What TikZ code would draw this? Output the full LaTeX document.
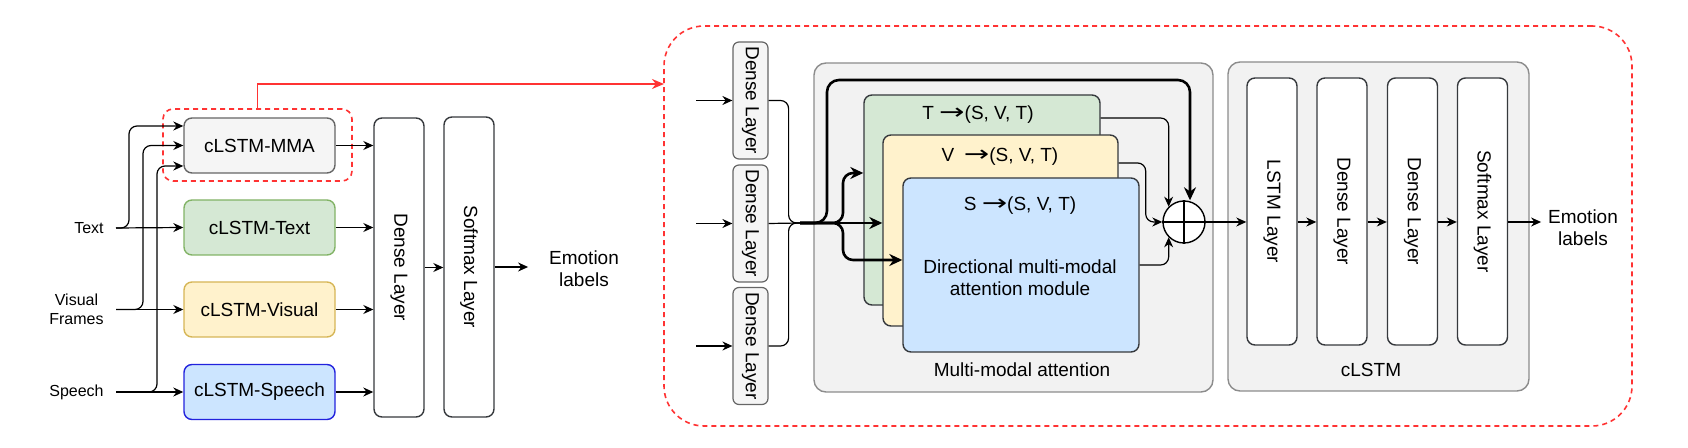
\documentclass[tikz,border=0pt]{standalone}
\usepackage{fontspec}
\setmainfont{Liberation Sans}
\newfontfamily\arrowfont{DejaVu Sans}
\usetikzlibrary{arrows.meta,calc}
\definecolor{boxfill}{HTML}{F5F5F5}
\definecolor{boxedge}{HTML}{666666}
\definecolor{panelfill}{HTML}{F2F2F2}
\definecolor{paneledge}{HTML}{8C8C8C}
\definecolor{txtfill}{HTML}{D5E8D4}
\definecolor{txtedge}{HTML}{82B366}
\definecolor{visfill}{HTML}{FFF2CC}
\definecolor{visedge}{HTML}{D6B656}
\definecolor{spcfill}{HTML}{CCE5FF}
\definecolor{spcedge}{HTML}{2222DD}
\definecolor{darkedge}{HTML}{36393D}
\definecolor{zoomred}{HTML}{FF3333}
\newcommand{\dirto}{\scalebox{1.6}[1.15]{\arrowfont →}}
\begin{document}
\begin{tikzpicture}[x=0.5pt,y=-0.5pt,
  every node/.style={font=\fontsize{9.5}{11}\selectfont},
  lbl/.style={font=\fontsize{8}{9.5}\selectfont, inner xsep=6pt, align=center, anchor=east},
  modbox/.style={draw=#1edge, fill=#1fill, rounded corners=4pt, minimum width=75.5pt, minimum height=27.5pt, line width=0.7pt},
  layer/.style={draw=darkedge, fill=white, rounded corners=4pt, minimum width=25pt, line width=0.7pt},
  smalldense/.style={draw=boxedge, fill=boxfill, rounded corners=3pt, minimum width=17.5pt, minimum height=58.5pt, inner sep=1pt, line width=0.6pt},
  attbox/.style={draw=darkedge, fill=#1, rounded corners=4pt, line width=0.7pt},
  panel/.style={draw=paneledge, fill=panelfill, rounded corners=6pt, line width=0.7pt},
  redbox/.style={draw=zoomred, dash pattern=on 2.5pt off 2pt, line width=0.8pt},
  arr/.style={-{Stealth[length=5pt,width=4.5pt]}, line width=0.6pt},
  bold/.style={-{Stealth[length=6.5pt,width=6pt]}, line width=1.3pt}
]
\useasboundingbox (0,0) rectangle (1688,448);

\node[redbox, rounded corners=20pt, minimum width=484pt, minimum height=200pt] (zoomed) at (1148,226) {};
\node[panel, minimum width=199.5pt, minimum height=164.5pt] (mmabg) at (1013.5,227.5) {};
\node[panel, minimum width=150.5pt, minimum height=164.5pt] (clstm) at (1378.5,226.5) {};
\node (mmalab) at (1022,370) {Multi-modal attention};
\node (clstmlab) at (1371,370) {cLSTM};

\node[redbox, rounded corners=5pt, minimum width=94.5pt, minimum height=36pt] (mmafocus) at (257.5,145) {};
\node[modbox=box] (mma) at (259.5,145.5) {cLSTM-MMA};
\node[modbox=txt] (txtbox) at (259.5,227.5) {cLSTM-Text};
\node[modbox=vis] (visbox) at (259.5,309.5) {cLSTM-Visual};
\node[modbox=spc] (spcbox) at (259.5,392) {cLSTM-Speech};
\node[lbl] (intxt) at (116,228) {Text};
\node[lbl] (invis) at (116,309.5) {Visual\\Frames};
\node[lbl] (inspc) at (116,392) {Speech};
\node[layer, minimum height=149.5pt] (dense1) at (399,267.5) {\rotatebox{-90}{Dense Layer}};
\node[layer, minimum height=150pt] (soft1) at (469,267) {\rotatebox{-90}{Softmax Layer}};
\node[align=center] (emo1) at (584,269) {Emotion\\labels};
\coordinate (zin) at (664,84);

\node[smalldense] (d1) at (750.5,100.5) {\rotatebox{-90}{Dense Layer}};
\node[smalldense] (d2) at (750.5,223.5) {\rotatebox{-90}{Dense Layer}};
\node[smalldense] (d3) at (750.5,346) {\rotatebox{-90}{Dense Layer}};
\coordinate (hub) at (800,223);
\node[attbox=txtfill, minimum width=118pt, minimum height=105pt] (green) at (982,200) {};
\node[attbox=visfill, minimum width=117.5pt, minimum height=95.5pt] (yellow) at (1000.5,230.5) {};
\node[attbox=spcfill, minimum width=118pt, minimum height=87pt] (blue) at (1021,265) {};
\node (tlab) at (978,115) {T \dirto(S, V, T)};
\node (vlab) at (1000,157) {V\enspace\dirto(S, V, T)};
\node (slab) at (1020,206) {S \dirto(S, V, T)};
\node[align=center] (dmlab) at (1020,278) {Directional multi-modal\\attention module};
\node[circle, draw, fill=white, minimum size=21pt, line width=0.7pt] (plus) at (1184,222) {};
\draw[line width=0.7pt] (plus.north) -- (plus.south) (plus.west) -- (plus.east);
\node[layer, minimum height=133.5pt] (l1) at (1272,211.5) {\rotatebox{-90}{LSTM Layer}};
\node[layer, minimum height=133.5pt] (l2) at (1342,211.5) {\rotatebox{-90}{Dense Layer}};
\node[layer, minimum height=133.5pt] (l3) at (1412.5,211.5) {\rotatebox{-90}{Dense Layer}};
\node[layer, minimum height=133.5pt] (l4) at (1482.5,211.5) {\rotatebox{-90}{Softmax Layer}};
\node[align=center] (emo2) at (1583,227.5) {Emotion\\labels};

\draw[arr] (intxt.east) -- (txtbox.west);
\draw[arr, rounded corners=4pt] (intxt.east) -- ++(13,0) |- ($(mma.west)+(0,-19.5)$);
\draw[arr] (invis.east) -- (visbox.west);
\draw[arr, rounded corners=4pt] (invis.east) -- ++(27,0) |- (mma.west);
\draw[arr] (inspc.east) -- (spcbox.west);
\draw[arr, rounded corners=4pt] (inspc.east) -- ++(41,0) |- ($(mma.west)+(0,20.5)$);
\foreach \b in {mma,txtbox,visbox,spcbox}
  \draw[arr] (\b.east) -- (\b.east -| dense1.west);
\draw[arr] (dense1.east) -- (dense1.east -| soft1.west);
\draw[arr, shorten >=7pt] (soft1.east) -- (soft1.east -| emo1.west);
\draw[redbox, solid, -{Stealth[length=6pt,width=5pt]}] (mmafocus.north) |- (zin);

\foreach \d in {d1,d2,d3}
  \draw[arr] ($(\d.west)+(-36,0)$) -- (\d.west);
\draw[line width=0.6pt, rounded corners=4pt] (d1.east) -- ++(20,0) |- (hub);
\draw[line width=0.6pt] (d2.east) -- (hub);
\draw[line width=0.6pt, rounded corners=4pt] (d3.east) -- ++(20,0) |- (hub);
\draw[bold, rounded corners=6pt] (hub) -- ++(27,0) -- ++(0,-143) -| ([xshift=3pt]plus.north);
\draw[bold, rounded corners=5pt] (hub) -- ++(43,0) |- ($(green.west)+(0,-27)$);
\draw[bold] (hub) -- (hub -| yellow.west);
\draw[bold, rounded corners=5pt] (hub) -- ++(43,0) |- ($(blue.west)+(0,-5)$);
\draw[arr, rounded corners=4pt] ($(green.east)+(0,-82)$) -| (plus.north west);
\draw[arr, rounded corners=4pt] ($(yellow.east)+(0,-67.5)$) -- ++(27,0) |- (plus.west);
\draw[arr, rounded corners=4pt] (blue.east) -| (plus.south west);
\draw[arr] (plus.east) -- (plus.east -| l1.west);
\draw[arr] (l1.east |- plus) -- (l2.west |- plus);
\draw[arr] (l2.east |- plus) -- (l3.west |- plus);
\draw[arr] (l3.east |- plus) -- (l4.west |- plus);
\draw[arr] (l4.east |- plus) -- (emo2.west |- plus);
\end{tikzpicture}
\end{document}
